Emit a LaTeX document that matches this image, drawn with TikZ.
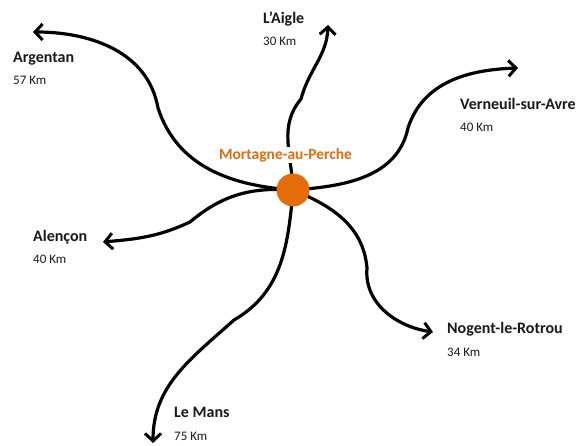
\documentclass[tikz,border=0pt]{standalone}
\usepackage{fontspec}
\setmainfont{Carlito}
\usetikzlibrary{arrows.meta}
\definecolor{hub}{HTML}{E46C0A}
\begin{document}
\begin{tikzpicture}[x=1pt,y=1pt,
  road/.style={line width=3.2pt,line cap=round,line join=round,-{Straight Barb[length=7.5pt,width=16pt,line width=3pt]}},
  town/.style={anchor=base west,font=\fontsize{16}{18}\selectfont\bfseries,inner sep=0pt,text=black!90},
  dist/.style={anchor=base west,font=\fontsize{13}{15}\selectfont,inner sep=0pt,text=black!90}]
\useasboundingbox (0,0) rectangle (582,446);
% centre
\coordinate (c) at (293,256);
% way points and ends
\coordinate (wArg) at (158,338);
\coordinate (tArg) at (33,414);
\coordinate (wAig) at (301,347);
\coordinate (tAig) at (328,421);
\coordinate (wVer) at (408,318);
\coordinate (tVer) at (518,378);
\coordinate (wAle) at (190,224);
\coordinate (tAle) at (103,204);
\coordinate (wMan) at (234,126);
\coordinate (tMan) at (153,3);
\coordinate (wNog) at (367,178);
\coordinate (tNog) at (433,114);
% roads
\draw[road] (c) to[out=176,in=-72] (wArg) to[out=100,in=0] (tArg);
\draw[road] (c) to[out=92,in=-130] (wAig) to[out=75,in=-92] (tAig);
\draw[road] (c) to[out=4,in=-102] (wVer) to[out=72,in=182] (tVer);
\draw[road] (c) to[out=176,in=40] (wAle) to[out=205,in=5] (tAle);
\draw[road] (c) to[out=-95,in=30] (wMan) to[out=222,in=90] (tMan);
\draw[road] (c) to[out=-22,in=95] (wNog) to[out=-95,in=172] (tNog);
% hub
\node[fill=white,inner sep=1pt,font=\fontsize{15.5}{17}\selectfont\bfseries,text=hub] (hubl) at (285.5,291) {Mortagne-au-Perche};
\node[circle,fill=hub,minimum size=33pt,inner sep=0pt] (hub) at (c) {};
% labels
\node[town] (nArg) at (13,383) {Argentan};
\node[dist] (dArg) at (13,361) {57 Km};
\node[town] (nAig) at (263,422) {L’Aigle};
\node[dist] (dAig) at (263,400) {30 Km};
\node[town] (nVer) at (460,336) {Verneuil-sur-Avre};
\node[dist] (dVer) at (460,314) {40 Km};
\node[town] (nAle) at (33,204) {Alençon};
\node[dist] (dAle) at (33,182) {40 Km};
\node[town] (nNog) at (447,112) {Nogent-le-Rotrou};
\node[dist] (dNog) at (447,89) {34 Km};
\node[town] (nMan) at (174,28) {Le Mans};
\node[dist] (dMan) at (174,5) {75 Km};
\end{tikzpicture}
\end{document}
